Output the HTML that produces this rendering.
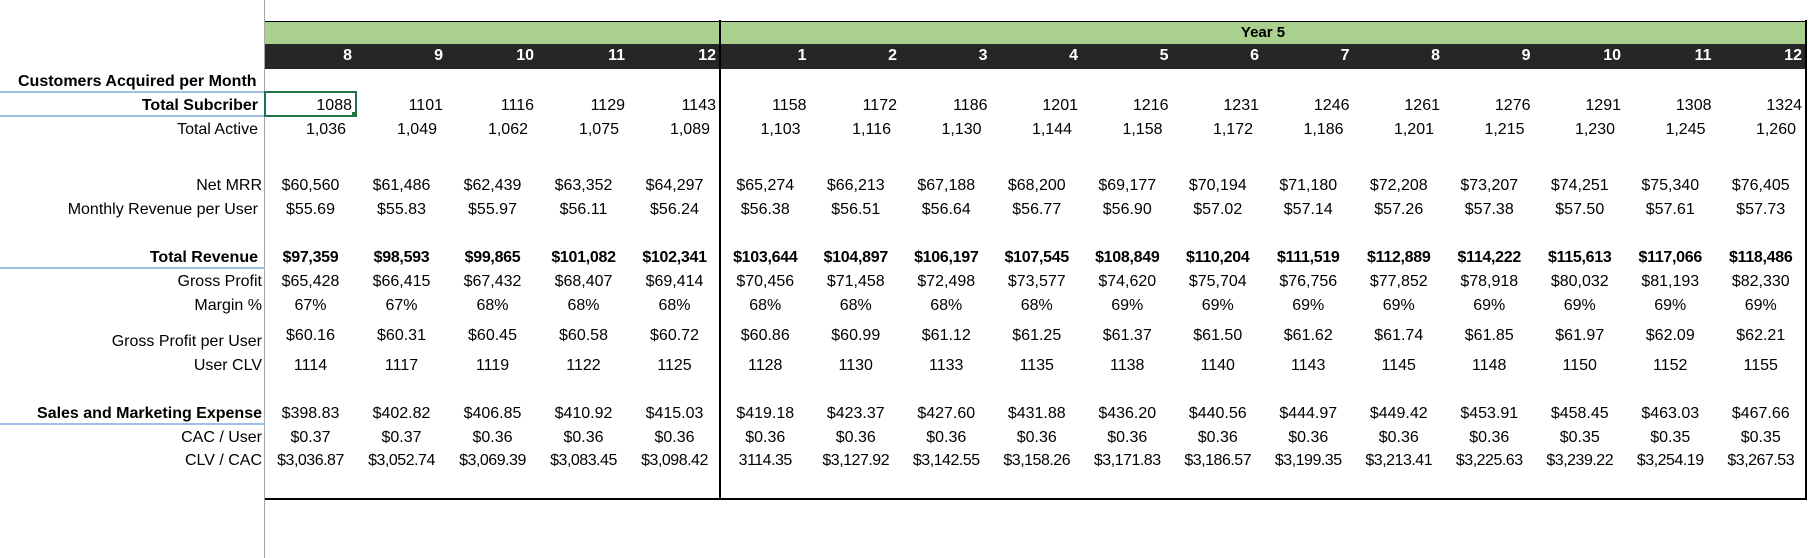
<!DOCTYPE html>
<html><head><meta charset="utf-8"><style>
body{margin:0;width:1815px;height:558px;background:#fff;position:relative;overflow:hidden;font-family:"Liberation Sans",Arial,sans-serif;font-size:16px;color:#000}
.a{position:absolute}
.row{position:absolute;left:265px;height:20px;line-height:20px;display:flex;white-space:nowrap}
.row span{display:block;text-align:center;flex:none}
.row span:nth-child(-n+5){width:91px}
.row span:nth-child(n+6){width:90.5px}
.r span{text-align:right;padding-right:4px;box-sizing:border-box}
.ra span{text-align:right;padding-right:10px;box-sizing:border-box}
.b{font-weight:bold}
.hd{color:#fff;font-weight:bold;top:46px}
.lab{position:absolute;right:1557px;height:20px;line-height:20px;white-space:nowrap;text-align:right}
.bl{position:absolute;left:0;width:265px;height:2px;background:#9bc2e6}
</style></head><body>
<div class="a" style="left:264px;top:0;width:1px;height:558px;background:#a6a6a6"></div>
<div class="a" style="left:265px;top:21px;width:1541px;height:23px;background:#a9d08e;border-top:1px solid #000"></div>
<div class="a" style="left:265px;top:44px;width:1541px;height:25px;background:#262626"></div>
<div class="a" style="left:719px;top:20px;width:2px;height:480px;background:#000"></div>
<div class="a" style="left:1805px;top:20px;width:2px;height:480px;background:#000"></div>
<div class="a" style="left:265px;top:498px;width:1542px;height:2px;background:#000"></div>
<div class="a b" style="left:720px;width:1086px;top:24px;text-align:center;line-height:18px;font-size:15px">Year 5</div>
<div class="row r hd"><span>8</span><span>9</span><span>10</span><span>11</span><span>12</span><span>1</span><span>2</span><span>3</span><span>4</span><span>5</span><span>6</span><span>7</span><span>8</span><span>9</span><span>10</span><span>11</span><span>12</span></div>

<div class="a b" style="left:18px;top:72px;line-height:20px">Customers Acquired per Month</div>
<div class="bl" style="top:91px"></div>
<div class="bl" style="top:115px"></div>
<div class="bl" style="top:267px"></div>
<div class="bl" style="top:423px"></div>
<div class="a" style="left:264px;top:91px;width:89px;height:22px;border:2px solid #217346"></div>
<div class="a" style="left:352px;top:112px;width:5px;height:5px;background:#217346"></div>

<div class="lab b" style="top:96px">Total Subcriber</div>
<div class="lab" style="top:120px">Total Active</div>
<div class="lab" style="top:176px;right:1553px">Net MRR</div>
<div class="lab" style="top:200px">Monthly Revenue per User</div>
<div class="lab b" style="top:248px">Total Revenue</div>
<div class="lab" style="top:272px;right:1553px">Gross Profit</div>
<div class="lab" style="top:296px;right:1553px">Margin %</div>
<div class="lab" style="top:332px;right:1553px">Gross Profit per User</div>
<div class="lab" style="top:356px;right:1553px">User CLV</div>
<div class="lab b" style="top:404px;right:1553px">Sales and Marketing Expense</div>
<div class="lab" style="top:428px;right:1553px">CAC / User</div>
<div class="lab" style="top:451px;right:1553px">CLV / CAC</div>

<div class="row r" style="top:96px"><span>1088</span><span>1101</span><span>1116</span><span>1129</span><span>1143</span><span>1158</span><span>1172</span><span>1186</span><span>1201</span><span>1216</span><span>1231</span><span>1246</span><span>1261</span><span>1276</span><span>1291</span><span>1308</span><span>1324</span></div>
<div class="row ra" style="top:120px"><span>1,036</span><span>1,049</span><span>1,062</span><span>1,075</span><span>1,089</span><span>1,103</span><span>1,116</span><span>1,130</span><span>1,144</span><span>1,158</span><span>1,172</span><span>1,186</span><span>1,201</span><span>1,215</span><span>1,230</span><span>1,245</span><span>1,260</span></div>
<div class="row" style="top:176px"><span>$60,560</span><span>$61,486</span><span>$62,439</span><span>$63,352</span><span>$64,297</span><span>$65,274</span><span>$66,213</span><span>$67,188</span><span>$68,200</span><span>$69,177</span><span>$70,194</span><span>$71,180</span><span>$72,208</span><span>$73,207</span><span>$74,251</span><span>$75,340</span><span>$76,405</span></div>
<div class="row" style="top:200px"><span>$55.69</span><span>$55.83</span><span>$55.97</span><span>$56.11</span><span>$56.24</span><span>$56.38</span><span>$56.51</span><span>$56.64</span><span>$56.77</span><span>$56.90</span><span>$57.02</span><span>$57.14</span><span>$57.26</span><span>$57.38</span><span>$57.50</span><span>$57.61</span><span>$57.73</span></div>
<div class="row b" style="top:248px;letter-spacing:-0.3px"><span>$97,359</span><span>$98,593</span><span>$99,865</span><span>$101,082</span><span>$102,341</span><span>$103,644</span><span>$104,897</span><span>$106,197</span><span>$107,545</span><span>$108,849</span><span>$110,204</span><span>$111,519</span><span>$112,889</span><span>$114,222</span><span>$115,613</span><span>$117,066</span><span>$118,486</span></div>
<div class="row" style="top:272px"><span>$65,428</span><span>$66,415</span><span>$67,432</span><span>$68,407</span><span>$69,414</span><span>$70,456</span><span>$71,458</span><span>$72,498</span><span>$73,577</span><span>$74,620</span><span>$75,704</span><span>$76,756</span><span>$77,852</span><span>$78,918</span><span>$80,032</span><span>$81,193</span><span>$82,330</span></div>
<div class="row" style="top:296px"><span>67%</span><span>67%</span><span>68%</span><span>68%</span><span>68%</span><span>68%</span><span>68%</span><span>68%</span><span>68%</span><span>69%</span><span>69%</span><span>69%</span><span>69%</span><span>69%</span><span>69%</span><span>69%</span><span>69%</span></div>
<div class="row" style="top:326px"><span>$60.16</span><span>$60.31</span><span>$60.45</span><span>$60.58</span><span>$60.72</span><span>$60.86</span><span>$60.99</span><span>$61.12</span><span>$61.25</span><span>$61.37</span><span>$61.50</span><span>$61.62</span><span>$61.74</span><span>$61.85</span><span>$61.97</span><span>$62.09</span><span>$62.21</span></div>
<div class="row" style="top:356px"><span>1114</span><span>1117</span><span>1119</span><span>1122</span><span>1125</span><span>1128</span><span>1130</span><span>1133</span><span>1135</span><span>1138</span><span>1140</span><span>1143</span><span>1145</span><span>1148</span><span>1150</span><span>1152</span><span>1155</span></div>
<div class="row" style="top:404px"><span>$398.83</span><span>$402.82</span><span>$406.85</span><span>$410.92</span><span>$415.03</span><span>$419.18</span><span>$423.37</span><span>$427.60</span><span>$431.88</span><span>$436.20</span><span>$440.56</span><span>$444.97</span><span>$449.42</span><span>$453.91</span><span>$458.45</span><span>$463.03</span><span>$467.66</span></div>
<div class="row" style="top:428px"><span>$0.37</span><span>$0.37</span><span>$0.36</span><span>$0.36</span><span>$0.36</span><span>$0.36</span><span>$0.36</span><span>$0.36</span><span>$0.36</span><span>$0.36</span><span>$0.36</span><span>$0.36</span><span>$0.36</span><span>$0.36</span><span>$0.35</span><span>$0.35</span><span>$0.35</span></div>
<div class="row" style="top:451px;letter-spacing:-0.5px"><span>$3,036.87</span><span>$3,052.74</span><span>$3,069.39</span><span>$3,083.45</span><span>$3,098.42</span><span>3114.35</span><span>$3,127.92</span><span>$3,142.55</span><span>$3,158.26</span><span>$3,171.83</span><span>$3,186.57</span><span>$3,199.35</span><span>$3,213.41</span><span>$3,225.63</span><span>$3,239.22</span><span>$3,254.19</span><span>$3,267.53</span></div>
</body></html>
